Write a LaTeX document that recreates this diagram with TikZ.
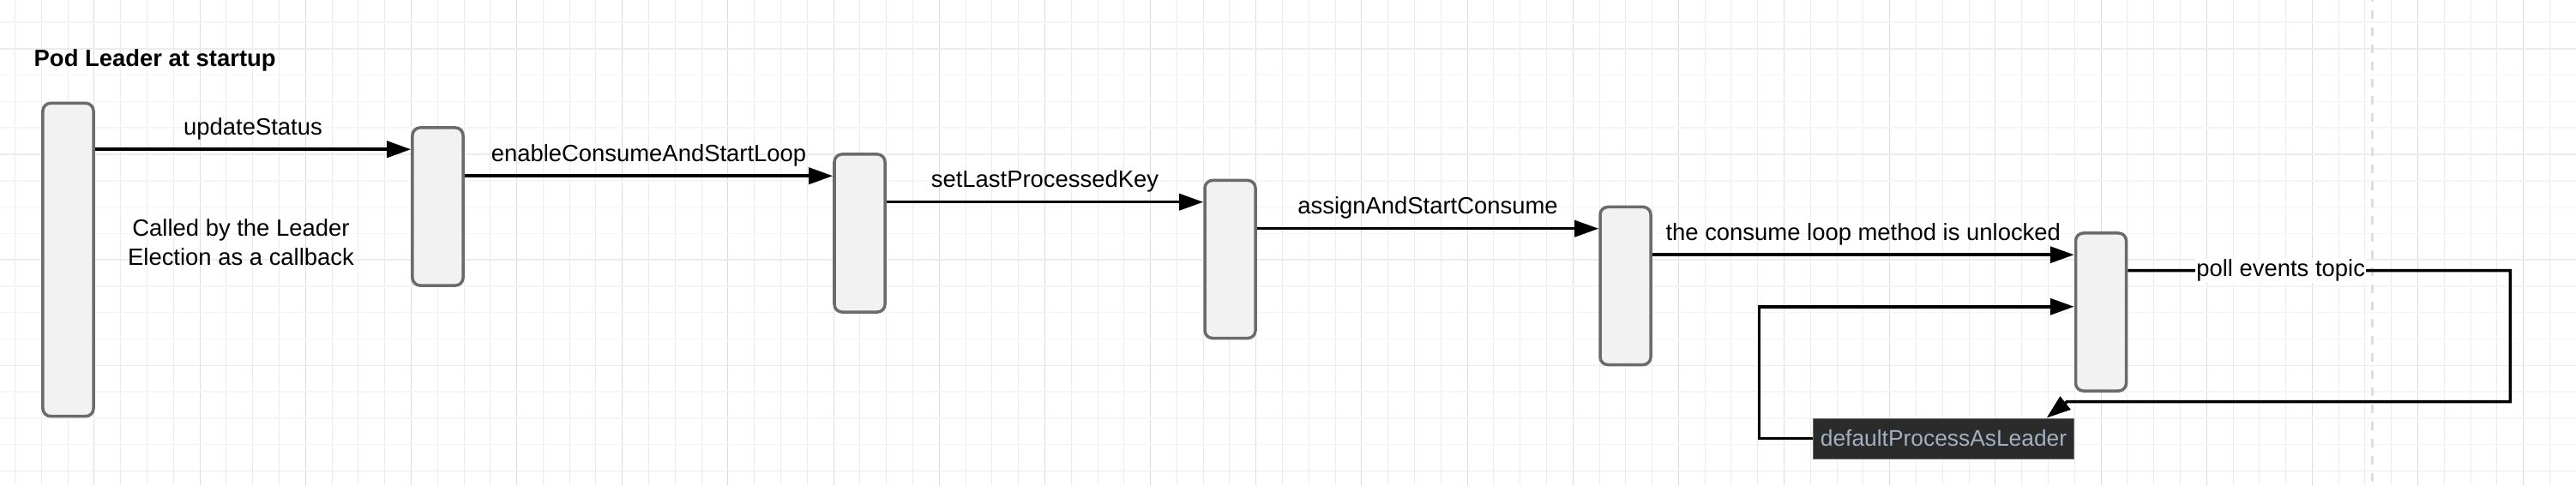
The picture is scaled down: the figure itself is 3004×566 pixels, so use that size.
\documentclass[tikz,border=0pt]{standalone}
\usepackage{fontspec}
\setmainfont{Liberation Sans}
\usetikzlibrary{arrows.meta}
\definecolor{barfill}{HTML}{F2F2F2}
\definecolor{barline}{HTML}{6B6B6B}
\definecolor{gridv}{HTML}{EBEBEB}
\definecolor{gridvmajor}{HTML}{DCDCDC}
\definecolor{gridh}{HTML}{F5F5F5}
\definecolor{gridhmajor}{HTML}{EDEDED}
\definecolor{pagebreak}{HTML}{DEDEDE}
\definecolor{tagfill}{HTML}{2B2B2B}
\definecolor{tagtext}{HTML}{A3B0BF}
\tikzset{
bar/.style={draw=barline, fill=barfill, rounded corners=0.09cm, line width=0.035cm, minimum width=0.59cm, inner sep=0pt},
msg/.style={draw=black, line width=0.035cm, -{Triangle[length=0.28cm, width=0.19cm]}},
lbl/.style={midway, anchor=base, yshift=0.17cm, inner sep=0pt}
}

\begin{document}
\begin{tikzpicture}[x=0.01cm, y=-0.01cm, font=\fontsize{7.8}{9.67}\selectfont]
    \useasboundingbox (0,0) rectangle (3004,566);
    \fill[white] (0,0) rectangle (3004,566);

    % grid
    \foreach \i [evaluate=\i as \gx using 17.6+30.79*\i] in {0,...,97}
        \draw[gridv, line width=0.01cm] (\gx,0) -- (\gx,566);
    \foreach \i [evaluate=\i as \gx using 17.6+30.79*\i] in {3,7,...,95}
        \draw[gridvmajor, line width=0.01cm] (\gx,0) -- (\gx,566);
    \foreach \j [evaluate=\j as \gy using 26+30.79*\j] in {0,...,17}
        \draw[gridh, line width=0.015cm] (0,\gy) -- (3004,\gy);
    \foreach \j [evaluate=\j as \gy using 26+30.79*\j] in {1,5,...,17}
        \draw[gridhmajor, line width=0.015cm] (0,\gy) -- (3004,\gy);
    \draw[pagebreak, line width=0.03cm, dash pattern=on 0.1cm off 0.1cm, dash phase=0.08cm] (2766,0) -- (2766,566);

    \node[anchor=base west, inner sep=0pt] (title) at (39,77) {\textbf{Pod Leader at startup}};

    \node[bar, minimum height=3.65cm] (b1) at (79.5,303) {};
    \node[bar, minimum height=1.84cm] (b2) at (510.5,241) {};
    \node[bar, minimum height=1.84cm] (b3) at (1002.5,272) {};
    \node[bar, minimum height=1.84cm] (b4) at (1434.5,302.5) {};
    \node[bar, minimum height=1.84cm] (b5) at (1895.5,333.5) {};
    \node[bar, minimum height=1.84cm] (b6) at (2450,364) {};

    \node[align=center, inner sep=0pt] (note) at (281,283) {Called by the Leader\\Election as a callback};

    \node[fill=tagfill, draw=barline, line width=0.01cm, text=tagtext, minimum height=0.47cm, inner xsep=0.08cm, inner ysep=0pt, font=\fontsize{7.5}{9}\selectfont] (dpl) at (2266.5,511.5) {defaultProcessAsLeader};

    \coordinate (in2) at ([yshift=-0.27cm]b2.north west);
    \coordinate (in3) at ([yshift=-0.27cm]b3.north west);
    \coordinate (in4) at ([yshift=-0.27cm]b4.north west);
    \coordinate (in5) at ([yshift=-0.27cm]b5.north west);
    \coordinate (in6) at ([yshift=-0.27cm]b6.north west);
    \coordinate (pollout) at ([yshift=-0.455cm]b6.north east);
    \coordinate (backin) at ([yshift=-0.875cm]b6.north west);
    \coordinate (tip) at ([xshift=-0.32cm]dpl.north east);

    \draw[msg] (b1.east |- in2) -- (in2) node[lbl] (m1) {updateStatus};
    \draw[msg] (b2.east |- in3) -- (in3) node[lbl] (m2) {enableConsumeAndStartLoop};
    \draw[msg] (b3.east |- in4) -- (in4) node[lbl] (m3) {setLastProcessedKey};
    \draw[msg] (b4.east |- in5) -- (in5) node[lbl] (m4) {assignAndStartConsume};
    \draw[msg] (b5.east |- in6) -- (in6) node[lbl] (m5) {the consume loop method is unlocked};

    \draw[msg] (pollout) -- ++(446,0) node[pos=0.4, fill=white, inner sep=0.01cm] (poll) {poll events topic}
        -- ++(0,153) -- ++(-517,0) -- (tip);
    \draw[msg] (dpl.west) -- ++(-63,0) |- (backin);
\end{tikzpicture}
\end{document}
